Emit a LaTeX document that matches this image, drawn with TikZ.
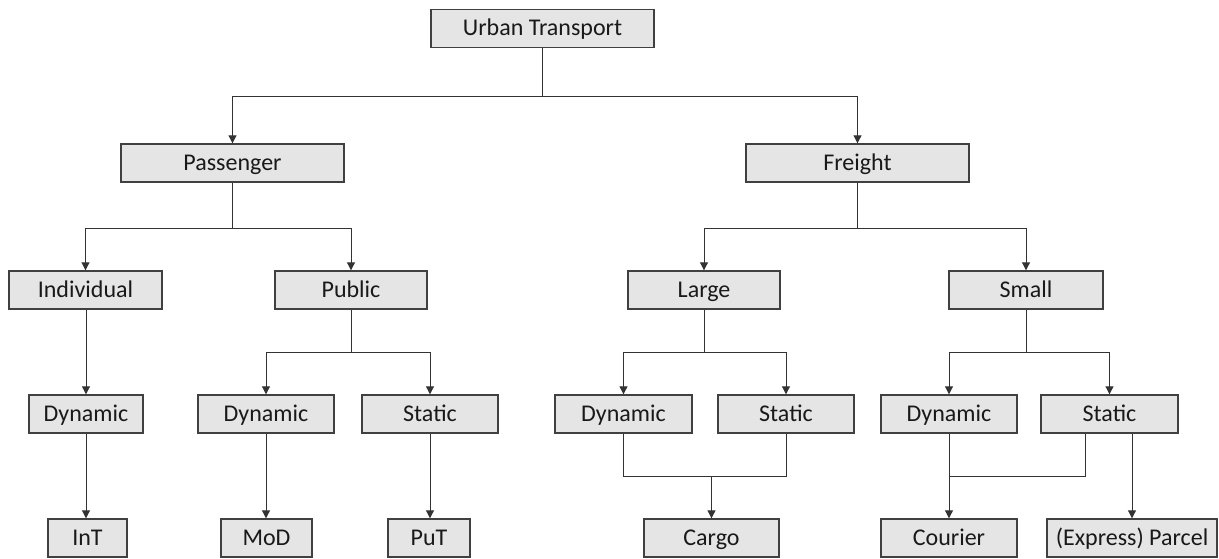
\documentclass[tikz,border=0pt]{standalone}
\usepackage{fontspec}
\setmainfont{Carlito}
\usetikzlibrary{arrows.meta}
\begin{document}
\begin{tikzpicture}[x=1pt,y=-1pt,
  box/.style={draw=black!75,line width=1.4pt,fill=black!10,minimum height=38pt,
    inner sep=0pt,text height=14.5pt,text depth=0pt,
    font=\fontsize{24}{28}\selectfont,text=black!90},
  link/.style={draw=black!80,line width=1pt},
  arr/.style={link,-{Triangle[length=8pt,width=8pt]}}]
\useasboundingbox (0,0) rectangle (1219,558);

% level 0 and 1
\node[box,minimum width=223pt] (ut)    at (542.5,28.5) {Urban Transport};
\node[box,minimum width=223pt] (pass)  at (232.5,163)  {Passenger};
\node[box,minimum width=223pt] (frei)  at (857.5,163)  {Freight};
% level 2
\node[box,minimum width=153pt] (ind)   at (85.5,290)   {Individual};
\node[box,minimum width=152pt] (pub)   at (351,290)    {Public};
\node[box,minimum width=152pt] (large) at (704,290)    {Large};
\node[box,minimum width=154pt] (small) at (1026,290)   {Small};
% level 3
\node[box,minimum width=114pt] (dynI)  at (86,414)     {Dynamic};
\node[box,minimum width=136pt] (dynP)  at (266,414)    {Dynamic};
\node[box,minimum width=136pt] (statP) at (430,414)    {Static};
\node[box,minimum width=137pt] (dynL)  at (623.5,414)  {Dynamic};
\node[box,minimum width=136pt] (statL) at (786,414)    {Static};
\node[box,minimum width=136pt] (dynS)  at (949,414)    {Dynamic};
\node[box,minimum width=137pt] (statS) at (1109.5,414) {Static};
% level 4
\node[box,minimum width=79pt]  (int)     at (87.5,538)  {InT};
\node[box,minimum width=91pt]  (mod)     at (266.5,538) {MoD};
\node[box,minimum width=82pt]  (put)     at (429,538)   {PuT};
\node[box,minimum width=135pt] (cargo)   at (711.5,538) {Cargo};
\node[box,minimum width=136pt] (courier) at (949,538)   {Courier};
\node[box,minimum width=170pt] (parcel)  at (1132,538)  {(Express) Parcel};

% junction points
\coordinate (jUT)    at (542.5,96);
\coordinate (jPass)  at (232.5,228);
\coordinate (jFrei)  at (857.5,228);
\coordinate (jPub)   at (351,352);
\coordinate (jLarge) at (704,352);
\coordinate (jSmall) at (1026,352);
\coordinate (mL)     at (711.5,476);
\coordinate (mS)     at (1085,476);

% top split
\draw[link] (ut.south) -- (jUT);
\draw[arr] (jUT) -| (pass.north);
\draw[arr] (jUT) -| (frei.north);
% passenger split
\draw[link] (pass.south) -- (jPass);
\draw[arr] (jPass) -| (ind.north);
\draw[arr] (jPass) -| (pub.north);
% freight split
\draw[link] (frei.south) -- (jFrei);
\draw[arr] (jFrei) -| (large.north);
\draw[arr] (jFrei) -| (small.north);
% individual
\draw[arr] (dynI.south |- ind.south) -- (dynI.north);
\draw[arr] (dynI.south) -- (dynI.south |- int.north);
% public
\draw[link] (pub.south) -- (jPub);
\draw[arr] (jPub) -| (dynP.north);
\draw[arr] (jPub) -| (statP.north);
\draw[arr] (dynP.south) -- (dynP.south |- mod.north);
\draw[arr] (statP.south) -- (statP.south |- put.north);
% large
\draw[link] (large.south) -- (jLarge);
\draw[arr] (jLarge) -| (dynL.north);
\draw[arr] (jLarge) -| (statL.north);
\draw[link] (dynL.south) |- (mL);
\draw[link] (statL.south) |- (mL);
\draw[arr] (mL) -- (cargo.north);
% small
\draw[link] (small.south) -- (jSmall);
\draw[arr] (jSmall) -| (dynS.north);
\draw[arr] (jSmall) -| (statS.north);
\draw[arr] (dynS.south) -- (courier.north);
\draw[link] (statS.south -| mS) -- (mS) -| (dynS.south |- mS);
\draw[arr] (statS.south -| parcel.north) -- (parcel.north);
\end{tikzpicture}
\end{document}
